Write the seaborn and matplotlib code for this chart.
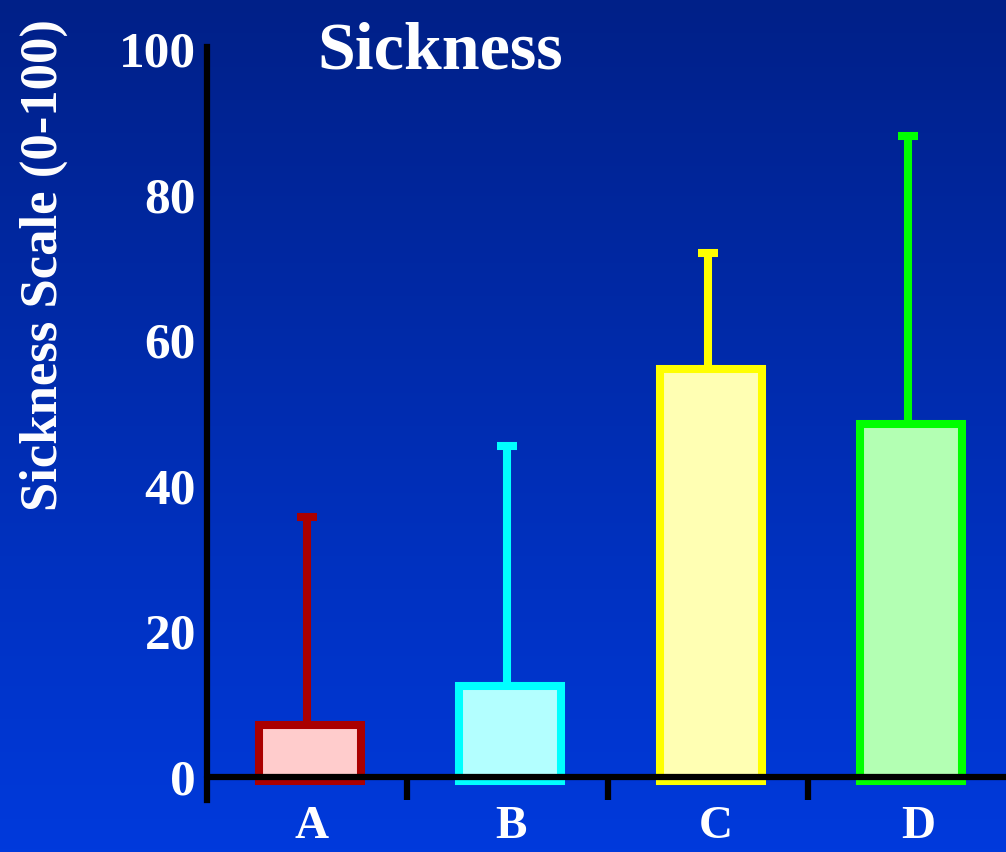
import numpy as np
import matplotlib
matplotlib.use("Agg")
import matplotlib.pyplot as plt
import seaborn as sns

# datos
groups = ["A", "B", "C", "D"]
means = [7.1, 12.5, 56.0, 48.5]
upper = [35.7, 45.5, 72.0, 88.0]
edge_colors = ["#AA0000", "#00FFFF", "#FFFF00", "#00FF00"]
fill_colors = ["#FFCCCC", "#B3FFFF", "#FFFFB3", "#B3FFB3"]
y_ticks = [0, 20, 40, 60, 80, 100]

sns.set_style("white")
plt.rcParams["font.family"] = ["Liberation Serif", "DejaVu Serif"]
plt.rcParams["font.weight"] = "bold"

fig = plt.figure(figsize=(10.06, 8.52), dpi=100)

# fondo con degradado azul
bg = fig.add_axes([0, 0, 1, 1], zorder=-10)
grad = np.linspace(0, 1, 256).reshape(-1, 1)
top = np.array([0, 32, 136]) / 255
bot = np.array([0, 58, 220]) / 255
img = top + (bot - top) * grad[..., None]
bg.imshow(img, aspect="auto", extent=[0, 1, 0, 1])
bg.axis("off")

ax = fig.add_axes([207 / 1006, 52 / 852, 1 - 207 / 1006, (800 - 47) / 852])
ax.patch.set_alpha(0)

sns.barplot(x=groups, y=means, hue=groups, palette=fill_colors, width=0.51,
            saturation=1, linewidth=5.8, legend=False, ax=ax, zorder=3)
for p, ec in zip(ax.patches, edge_colors):
    p.set_edgecolor(ec)
    p.set_joinstyle("miter")
    p.set_x(p.get_x() + 0.015)
    # la barra baja un poco por debajo del eje
    p.set_y(-0.6)
    p.set_height(p.get_height() + 0.6)

# barras de error solo hacia arriba
for i, (m, u, ec) in enumerate(zip(means, upper, edge_colors)):
    ax.errorbar(i, m, yerr=[[0], [u - m]], color=ec, elinewidth=5.8,
                capsize=7.2, capthick=5.8, zorder=2)

ax.axhline(0, color="black", lw=4.5, zorder=4, clip_on=False)
for b in [0.5, 1.5, 2.5]:
    ax.plot([b, b], [-3.2, 0], color="black", lw=4.5, solid_capstyle="butt",
            clip_on=False, zorder=4)

ax.set_xlim(-0.5, 3.49)
ax.set_ylim(-3.2, 100.3)
ax.set_xticks([0.02, 1.02, 2.04, 3.05])
ax.set_xticklabels(groups)
ax.set_yticks(y_ticks)
ax.set_yticklabels([str(t) for t in y_ticks])
ax.tick_params(axis="y", length=0, pad=8, labelsize=37, labelcolor="white")
ax.tick_params(axis="x", length=0, pad=4, labelsize=34, labelcolor="white")
ax.set_xlabel("")
ax.set_ylabel("")

for s in ["top", "right", "bottom"]:
    ax.spines[s].set_visible(False)
ax.spines["left"].set_color("black")
ax.spines["left"].set_linewidth(4.5)

fig.text(440 / 1006, 1 - 52 / 852, "Sickness", color="white", fontsize=49,
         fontweight="bold", ha="center", va="center")
fig.text(44 / 1006, 1 - 265 / 852, "Sickness Scale (0-100)", color="white",
         fontsize=38, fontweight="bold", rotation=90, ha="center", va="center")

fig.savefig("out.png", dpi=100)
